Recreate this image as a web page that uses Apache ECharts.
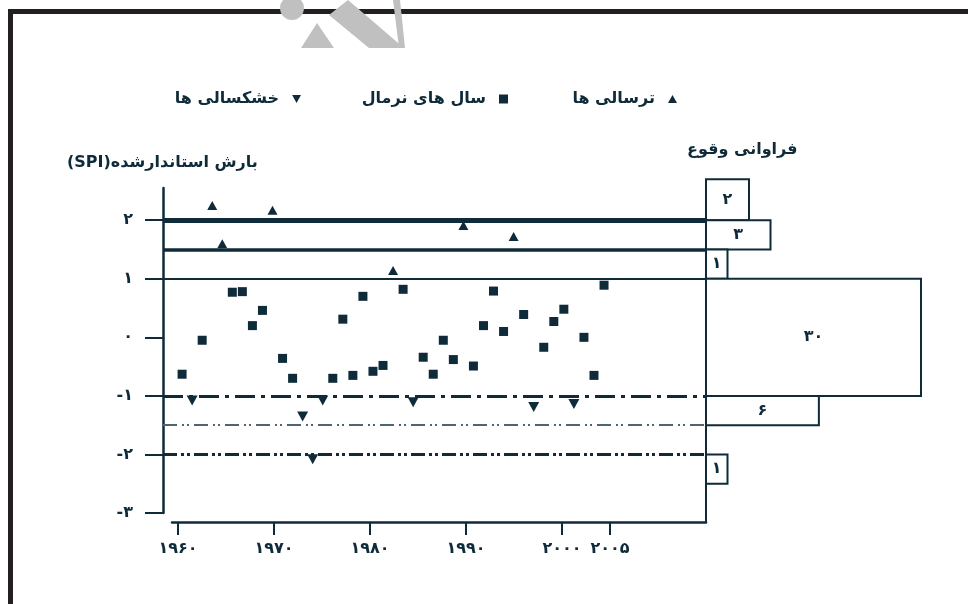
<!DOCTYPE html>
<html>
<head>
<meta charset="utf-8">
<script src="https://cdn.jsdelivr.net/npm/echarts@6/dist/echarts.min.js"></script>
<style>html,body{margin:0;padding:0;background:#fff}#c{width:968px;height:604px}</style>
</head>
<body>
<div id="c"></div>
<script>
// ---- data ----
const years = [1960,1961,1962,1963,1964,1965,1966,1967,1968,1969,
               1970,1971,1972,1973,1974,1975,1976,1977,1978,1979,
               1980,1981,1982,1983,1984,1985,1986,1987,1988,1989,
               1990,1991,1992,1993,1994,1995,1996,1997,1998,1999,
               2000,2001,2002];
const spi = [-0.63,-1.08,-0.05,2.25,1.60,0.77,0.78,0.20,0.46,2.17,
             -0.36,-0.70,-1.35,-2.08,-1.08,-0.70,0.31,-0.65,0.70,-0.58,
             -0.48,1.14,0.82,-1.11,-0.34,-0.63,-0.05,-0.38,1.91,-0.49,
             0.20,0.79,0.10,1.72,0.39,-1.19,-0.17,0.27,0.48,-1.14,
             0.00,-0.65,0.89];
const seriesNames = ['ترسالی ها', 'سال های نرمال', 'خشکسالی ها'];
const thresholds = [2, 1.5, 1, -1, -1.5, -2];
const freqCounts = [2, 3, 1, 30, 6, 1];
const freqLow  = [2.0, 1.5, 1.0, -1.0, -1.5, -2.5];
const freqHigh = [2.7, 2.0, 1.5,  1.0, -1.0, -2.0];
const yTickValues = [-3, -2, -1, 0, 1, 2];
const yTickLabels = ['-۳', '-۲', '-۱', '۰', '۱', '۲'];
const xTickValues = [1960, 1970, 1980, 1990, 2000, 2005];
const xTickLabels = ['۱۹۶۰', '۱۹۷۰', '۱۹۸۰', '۱۹۹۰', '۲۰۰۰', '۲۰۰۵'];
const yTitle = '(SPI)بارش استاندارشده';
const freqTitle = 'فراوانی وقوع';

// ---- helpers ----
const C = '#0f2b39';
const FONT = '"DejaVu Sans", sans-serif';
const toFa = n => String(n).replace(/\d/g, d => '۰۱۲۳۴۵۶۷۸۹'[d]);
// broken (compressed) scale used by the frequency boxes
const freqKnotsIn = [0, 3, 6, 30];
const freqKnotsOut = [0, 3, 5.25, 10];
function freqLen(f) {
  for (let i = 1; i < freqKnotsIn.length; i++) {
    if (f <= freqKnotsIn[i]) {
      const t = (f - freqKnotsIn[i-1]) / (freqKnotsIn[i] - freqKnotsIn[i-1]);
      return freqKnotsOut[i-1] + t * (freqKnotsOut[i] - freqKnotsOut[i-1]);
    }
  }
  return freqKnotsOut[freqKnotsOut.length-1];
}
const wet = [], normal = [], dry = [];
years.forEach((y, i) => {
  const v = spi[i];
  if (v >= 1) wet.push([y, v]); else if (v <= -1) dry.push([y, v]); else normal.push([y, v]);
});
const downTri = 'path://M0,0L10,0L5,9Z';
const lineStyles = [
  {width: 5, type: 'solid'},
  {width: 3.5, type: 'solid'},
  {width: 2, type: 'solid'},
  {width: 3, type: [20, 6, 4, 6]},
  {width: 2, type: [14, 5, 2, 3, 2, 5], color: '#4f6670'},
  {width: 3, type: [14, 4, 3, 3, 3, 4]}
];

const chart = echarts.init(document.getElementById('c'), null, {renderer: 'canvas'});
const txt = {color: C, fontFamily: FONT, fontWeight: 'bold', fontSize: 16};
const mk = {color: C, opacity: 1};
const option = {
  backgroundColor: '#fff',
  animation: false,
  title: [
    {text: yTitle, left: 62, top: 150, textStyle: Object.assign({}, txt)},
    {text: freqTitle, left: 682, top: 137, textStyle: Object.assign({}, txt)}
  ],
  legend: [
    {data: [seriesNames[0]], right: 286, top: 86, align: 'right', itemWidth: 9, itemHeight: 8,
     textStyle: Object.assign({padding: [0, 8, 0, 0]}, txt)},
    {data: [seriesNames[1]], right: 455, top: 86, align: 'right', itemWidth: 9, itemHeight: 9,
     textStyle: Object.assign({padding: [0, 8, 0, 0]}, txt)},
    {data: [seriesNames[2]], right: 662, top: 86, align: 'right', itemWidth: 9, itemHeight: 8,
     textStyle: Object.assign({padding: [0, 8, 0, 0]}, txt)}
  ],
  grid: [
    {left: 163, right: 262, top: 188, bottom: 91},
    {left: 172, right: 262, top: 180, bottom: 82},
    {left: 706, width: 215, top: 188, bottom: 91}
  ],
  xAxis: [
    {gridIndex: 0, type: 'value', min: 1958.1, max: 2012.15, show: false},
    {gridIndex: 1, type: 'value', min: 1959.375, max: 2015,
     axisLine: {show: true, lineStyle: {color: C, width: 2.5}},
     axisTick: {show: true, customValues: xTickValues, length: 13, lineStyle: {color: C, width: 2}},
     axisLabel: {customValues: xTickValues, margin: 19, color: C, fontFamily: FONT, fontWeight: 'bold', fontSize: 16,
       formatter: v => xTickLabels[xTickValues.indexOf(v)] || ''},
     splitLine: {show: false}},
    {gridIndex: 2, type: 'value', min: 0, max: 10, show: false}
  ],
  yAxis: [
    {gridIndex: 0, type: 'value', min: -3, max: 2.55,
     axisLine: {show: true, lineStyle: {color: C, width: 2.5}},
     axisTick: {show: true, customValues: yTickValues, length: 18, lineStyle: {color: C, width: 2}},
     axisLabel: {customValues: yTickValues, margin: 30, color: C, fontFamily: FONT, fontWeight: 'bold', fontSize: 16,
       formatter: v => yTickLabels[yTickValues.indexOf(v)] || ''},
     splitLine: {show: false}},
    {gridIndex: 1, type: 'value', min: 0, max: 1, position: 'right',
     axisLine: {show: true, lineStyle: {color: C, width: 2}},
     axisTick: {show: false}, axisLabel: {show: false}, splitLine: {show: false}},
    {gridIndex: 2, type: 'value', min: -3, max: 2.55, show: false}
  ],
  series: [
    {name: seriesNames[0], type: 'scatter', xAxisIndex: 0, yAxisIndex: 0, data: wet,
     symbol: 'triangle', symbolSize: [10, 9], itemStyle: mk, z: 5},
    {name: seriesNames[1], type: 'scatter', xAxisIndex: 0, yAxisIndex: 0, data: normal,
     symbol: 'rect', symbolSize: 9, itemStyle: mk, z: 5,
     markLine: {silent: true, symbol: 'none', label: {show: false}, animation: false,
       data: thresholds.map((t, i) => ({yAxis: t, lineStyle: Object.assign({color: C, opacity: 1}, lineStyles[i])}))}},
    {name: seriesNames[2], type: 'scatter', xAxisIndex: 0, yAxisIndex: 0, data: dry,
     symbol: downTri, symbolSize: [11, 10], itemStyle: mk, z: 5},
    {name: 'freq', type: 'custom', xAxisIndex: 2, yAxisIndex: 2, clip: false,
     data: freqCounts.map((f, i) => [f, freqLow[i], freqHigh[i]]),
     encode: {x: 0, y: [1, 2]},
     renderItem: function (params, api) {
       const f = api.value(0), lo = api.value(1), hi = api.value(2);
       const p0 = api.coord([0, hi]);
       const p1 = api.coord([freqLen(f), lo]);
       return {type: 'group', children: [
         {type: 'rect', shape: {x: p0[0], y: p0[1], width: p1[0] - p0[0], height: p1[1] - p0[1]},
          style: {fill: '#fff', stroke: C, lineWidth: 2}},
         {type: 'text', x: (p0[0] + p1[0]) / 2, y: (p0[1] + p1[1]) / 2,
          style: {text: toFa(f), align: 'center', verticalAlign: 'middle',
                  font: 'bold 16px ' + FONT, fill: C}}
       ]};
     }}
  ],
  graphic: [
    {type: 'rect', shape: {x: 8, y: 9, width: 960, height: 5}, style: {fill: '#231f20'}, z: 50},
    {type: 'rect', shape: {x: 8, y: 9, width: 5, height: 600}, style: {fill: '#231f20'}, z: 50},
    {type: 'circle', shape: {cx: 292, cy: 8, r: 12}, style: {fill: '#c0c0c0'}, z: 60},
    {type: 'polygon', shape: {points: [[317, 23], [301, 48], [334, 48]]}, style: {fill: '#c0c0c0'}, z: 60},
    {type: 'polygon', shape: {points: [[329, 15], [348, 0], [404, 48], [369, 48]]}, style: {fill: '#c0c0c0'}, z: 60},
    {type: 'polygon', shape: {points: [[393, 0], [400, 0], [405, 48], [399, 48]]}, style: {fill: '#c0c0c0'}, z: 60}
  ]
};
chart.setOption(option);
</script>
</body>
</html>
